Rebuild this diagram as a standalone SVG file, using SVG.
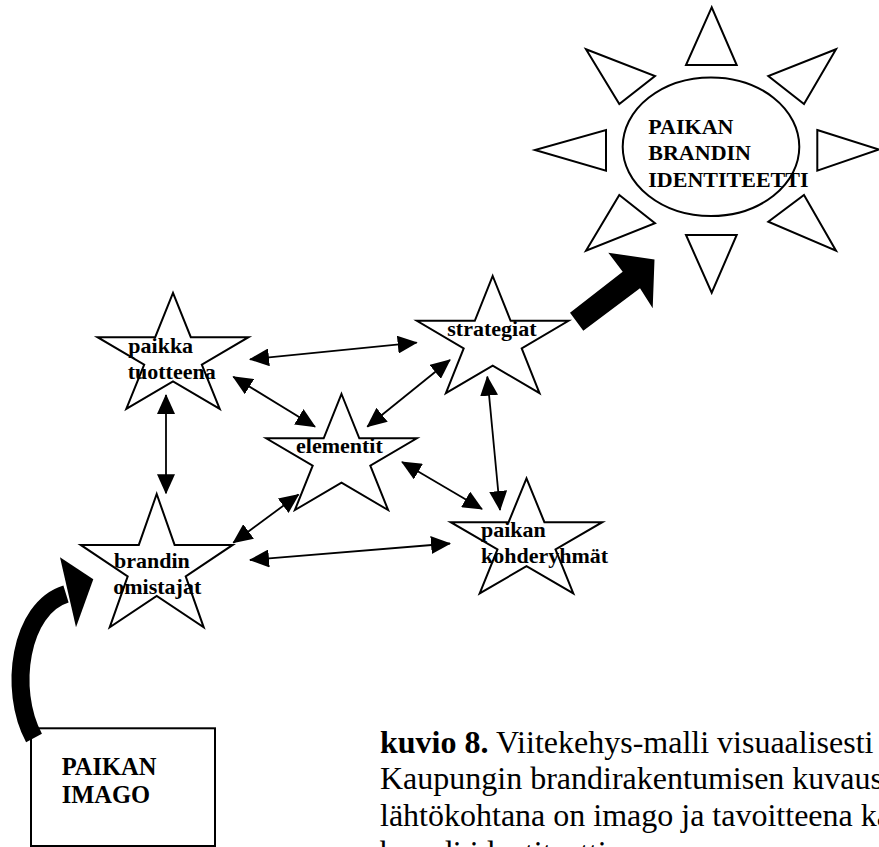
<svg xmlns="http://www.w3.org/2000/svg" width="879" height="847" viewBox="0 0 879 847">
  <style>
    .star { fill: #fff; stroke: #000; stroke-width: 2; stroke-linejoin: miter; }
    .ray { fill: #fff; stroke: #000; stroke-width: 2; stroke-linejoin: miter; }
    .lbl { font-family: "Liberation Serif", "Times New Roman", serif; font-weight: bold; font-size: 22px; fill: #000; }
    .big { font-family: "Liberation Serif", "Times New Roman", serif; font-weight: bold; font-size: 24.5px; fill: #000; }
    .cap { font-family: "Liberation Serif", "Times New Roman", serif; font-size: 32px; fill: #000; }
    .link { fill: none; stroke: #000; stroke-width: 1.8; marker-start: url(#head); marker-end: url(#head); }
  </style>
  <defs>
    <marker id="head" viewBox="0 0 20 18" markerWidth="20" markerHeight="18" refX="19" refY="9" markerUnits="userSpaceOnUse" orient="auto-start-reverse">
      <path d="M0,0 L20,9 L0,18 z" fill="#000"/>
    </marker>
  </defs>

  <rect width="879" height="847" fill="#fff"/>

  <!-- target: the sun with its eight rays -->
  <g id="identiteetti">
    <polygon class="ray" points="711.7,7.3 686,65 736.7,65"/>
    <polygon class="ray" points="836,49.3 768.3,76 804,104"/>
    <polygon class="ray" points="817.3,130 879,149.5 817.3,170.7"/>
    <polygon class="ray" points="804,195 836,250.7 768.3,221.7"/>
    <polygon class="ray" points="686,235 736.7,235 711.7,292.7"/>
    <polygon class="ray" points="619.3,195 655,223.3 586,250.7"/>
    <polygon class="ray" points="606,130 606,170.7 535,150"/>
    <polygon class="ray" points="586,49.3 655,76 619.3,104"/>
    <ellipse cx="711" cy="146.7" rx="88.3" ry="69.3" fill="#fff" stroke="#000" stroke-width="2"/>
    <text class="lbl" x="648.3" y="134.3">PAIKAN</text>
    <text class="lbl" x="648.3" y="160.3">BRANDIN</text>
    <text class="lbl" x="648.3" y="186.7">IDENTITEETTI</text>
  </g>

  <!-- starting point -->
  <g id="imago">
    <rect x="31" y="728.3" width="184" height="117.7" fill="#fff" stroke="#000" stroke-width="2"/>
    <text class="big" x="61.7" y="775">PAIKAN</text>
    <text class="big" x="61.7" y="803.3">IMAGO</text>
  </g>

  <!-- the five element stars -->
  <g id="paikka-tuotteena">
    <polygon class="star" points="173,292.9 190.8,337.2 248.5,337.2 201.8,364.6 219.7,408.9 173,381.5 126.3,408.9 144.2,364.6 97.5,337.2 155.2,337.2"/>
    <text class="lbl" x="128.3" y="352.7">paikka</text>
    <text class="lbl" x="127.7" y="379.3">tuotteena</text>
  </g>
  <g id="elementit">
    <polygon class="star" points="341.5,394 359.3,438.3 416.8,438.3 370.3,465.7 388.1,510 341.5,482.6 294.9,510 312.7,465.7 266.2,438.3 323.7,438.3"/>
    <text class="lbl" x="296" y="453.3">elementit</text>
  </g>
  <g id="strategiat">
    <polygon class="star" points="492.7,276 510.6,320.8 568.5,320.8 521.7,348.4 539.5,393.2 492.7,365.6 445.9,393.2 463.7,348.4 416.9,320.8 474.8,320.8"/>
    <text class="lbl" x="447.3" y="335.7">strategiat</text>
  </g>
  <g id="brandin-omistajat">
    <polygon class="star" points="156.7,494 174.6,544.9 232.7,544.9 185.7,576.4 203.7,627.3 156.7,595.9 109.7,627.3 127.7,576.4 80.7,544.9 138.8,544.9"/>
    <text class="lbl" x="114" y="568.3">brandin</text>
    <text class="lbl" x="113.3" y="594">omistajat</text>
  </g>
  <g id="paikan-kohderyhmat">
    <polygon class="star" points="526.5,478.3 544.4,522.2 602.3,522.2 555.5,549.4 573.3,593.4 526.5,566.2 479.7,593.4 497.5,549.4 450.7,522.2 508.6,522.2"/>
    <text class="lbl" x="481" y="537.3">paikan</text>
    <text class="lbl" x="481" y="563.3">kohderyhmät</text>
  </g>

  <!-- connectors -->
  <g id="connectors">
    <line class="link" x1="250" y1="359.3" x2="416.7" y2="342.7"/>
    <line class="link" x1="233.3" y1="376.7" x2="315" y2="426.7"/>
    <line class="link" x1="367.3" y1="426.7" x2="450" y2="360"/>
    <line class="link" x1="166" y1="395" x2="166" y2="493.3"/>
    <line class="link" x1="298.5" y1="494.5" x2="233.3" y2="542.7"/>
    <line class="link" x1="250" y1="560" x2="450" y2="543.5"/>
    <line class="link" x1="402" y1="462" x2="482" y2="509"/>
    <line class="link" x1="487.3" y1="376.7" x2="500" y2="510"/>

    <!-- heavy block arrow towards the identity -->
    <polygon points="570,312.7 622.7,271.7 608.3,252.7 654.5,259.5 652.7,308.3 640,288.3 583.3,330.7" fill="#000"/>

    <!-- heavy curved arrow from the image up to the owners -->
    <path d="M34,738 C8,690 20,608 66,594" fill="none" stroke="#000" stroke-width="18"/>
    <polygon points="60,557.3 93.3,579.3 76,627.3" fill="#000"/>
  </g>

  <!-- caption -->
  <g id="caption">
    <text class="cap" x="380" y="752.7"><tspan font-weight="bold">kuvio 8.</tspan> Viitekehys-malli visuaalisesti</text>
    <text class="cap" x="380" y="789.3">Kaupungin brandirakentumisen kuvaus</text>
    <text class="cap" x="380" y="826">lähtökohtana on imago ja tavoitteena kaupungin</text>
    <text class="cap" x="380" y="862.7">brandi identiteetti</text>
  </g>
</svg>
